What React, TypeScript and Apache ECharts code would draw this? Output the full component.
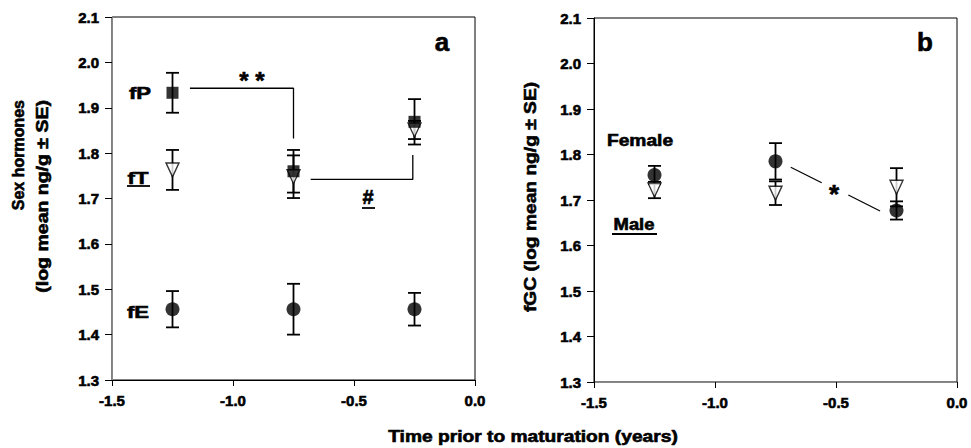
import React, { useEffect, useRef } from 'react';
import * as echarts from 'echarts';

// ---- data ----
const times = [-1.25, -0.75, -0.25];
const xTickLabels = ['-1.5', '-1.0', '-0.5', '0.0'];
const yTickLabels = ['1.3', '1.4', '1.5', '1.6', '1.7', '1.8', '1.9', '2.0', '2.1'];

const fP = [1.933, 1.76, 1.869];
const fPse = [0.044, 0.047, 0.05];
const fT = [1.763, 1.748, 1.851];
const fTse = [0.044, 0.047, 0.02];
const fE = [1.456, 1.456, 1.456];
const fEse = [0.04, 0.056, 0.036];

const female = [1.755, 1.785, 1.677];
const femaleSe = [0.02, 0.04, 0.02];
const male = [1.722, 1.715, 1.728];
const maleSe = [0.018, 0.026, 0.042];

const bracketPP = [[-1.178, 1.943], [-0.75, 1.943], [-0.75, 1.832]];
const bracketPT = [[-0.679, 1.742], [-0.257, 1.742], [-0.257, 1.796]];
const gcDash1 = [[-0.687, 1.772], [-0.559, 1.738]];
const gcDash2 = [[-0.449, 1.711], [-0.318, 1.676]];

const FONT = 'Liberation Sans, Arial, sans-serif';

function errorSeries(gi: number, means: number[], ses: number[]) {
  return {
    type: 'custom',
    xAxisIndex: gi,
    yAxisIndex: gi,
    silent: true,
    z: 2,
    encode: { x: 0, y: [1, 2] },
    data: times.map((t, i) => [t, means[i] - ses[i], means[i] + ses[i]]),
    renderItem: (params: any, api: any) => {
      const x = api.value(0);
      const p1 = api.coord([x, api.value(1)]);
      const p2 = api.coord([x, api.value(2)]);
      const w = 6.5;
      const st = { stroke: '#000', lineWidth: 1.8 };
      return {
        type: 'group',
        children: [
          { type: 'line', shape: { x1: p1[0], y1: p1[1], x2: p2[0], y2: p2[1] }, style: st },
          { type: 'line', shape: { x1: p1[0] - w, y1: p1[1], x2: p1[0] + w, y2: p1[1] }, style: st },
          { type: 'line', shape: { x1: p2[0] - w, y1: p2[1], x2: p2[0] + w, y2: p2[1] }, style: st },
        ],
      };
    },
  };
}

function markerSeries(gi: number, means: number[], kind: string) {
  const base: any = {
    type: 'scatter',
    xAxisIndex: gi,
    yAxisIndex: gi,
    silent: true,
    z: 3,
    data: times.map((t, i) => [t, means[i]]),
  };
  if (kind === 'square') {
    base.symbol = 'rect';
    base.symbolSize = 12;
    base.itemStyle = { color: '#000' };
  } else if (kind === 'circle') {
    base.symbol = 'circle';
    base.symbolSize = 14;
    base.itemStyle = { color: '#000' };
  } else {
    base.symbol = 'triangle';
    base.symbolRotate = 180;
    base.symbolSize = [13, 14];
    base.itemStyle = { color: '#fff', borderColor: '#000', borderWidth: 1.4 };
  }
  return base;
}

function lineSeries(gi: number, pts: number[][], width = 1.3) {
  return {
    type: 'line',
    xAxisIndex: gi,
    yAxisIndex: gi,
    silent: true,
    symbol: 'none',
    z: 1,
    lineStyle: { color: '#000', width },
    data: pts,
  };
}

const tickStyle = {
  color: '#000',
  fontFamily: FONT,
  fontWeight: 'bold',
  fontSize: 15,
  textBorderColor: '#000',
  textBorderWidth: 0.6,
  margin: 13,
};

function xAxis(gi: number, lineColor: string) {
  return {
    type: 'value',
    gridIndex: gi,
    min: -1.5,
    max: 0,
    interval: 0.5,
    axisLine: { show: true, onZero: false, lineStyle: { color: lineColor, width: 1 } },
    axisTick: { show: true, length: 6, lineStyle: { color: '#000' } },
    splitLine: { show: false },
    axisLabel: {
      ...tickStyle,
      formatter: (v: number) => xTickLabels[Math.round((v + 1.5) / 0.5)] ?? v.toFixed(1),
    },
  };
}

function yAxis(gi: number, lineColor: string) {
  return {
    type: 'value',
    gridIndex: gi,
    min: 1.3,
    max: 2.1,
    interval: 0.1,
    axisLine: { show: true, onZero: false, lineStyle: { color: lineColor, width: 1 } },
    axisTick: { show: true, length: 7, lineStyle: { color: '#000' } },
    splitLine: { show: false },
    axisLabel: {
      ...tickStyle,
      showMinLabel: true,
      showMaxLabel: true,
      formatter: (v: number) => yTickLabels[Math.round((v - 1.3) / 0.1)] ?? v.toFixed(1),
    },
  };
}

function txt(text: string, x: number, y: number, size: number, extra: any = {}) {
  const { align, ...rest } = extra;
  return {
    type: 'text',
    x,
    y,
    silent: true,
    z: 10,
    ...rest,
    style: {
      text,
      x: 0,
      y: 0,
      fill: '#000',
      stroke: '#000',
      lineWidth: 0.6,
      font: `bold ${size}px ${FONT}`,
      align: align || 'center',
      verticalAlign: 'middle',
    },
  };
}

function uline(x1: number, x2: number, y: number) {
  return {
    type: 'line',
    silent: true,
    z: 10,
    shape: { x1, y1: y, x2, y2: y },
    style: { stroke: '#000', lineWidth: 1.8 },
  };
}

export default function App() {
  const ref = useRef<HTMLDivElement>(null);
  useEffect(() => {
    document.body.style.margin = '0';
    const chart = echarts.init(ref.current!, null, { renderer: 'svg' });
    const option: any = {
      animation: false,
      backgroundColor: '#fff',
      grid: [
        { left: 112, top: 17, width: 363, height: 363, show: true, borderColor: '#000', borderWidth: 1, backgroundColor: 'transparent' },
        { left: 594, top: 18, width: 363, height: 364, show: true, borderColor: '#000', borderWidth: 1, backgroundColor: 'transparent' },
      ],
      xAxis: [xAxis(0, '#000'), xAxis(1, '#888')],
      yAxis: [yAxis(0, '#888'), yAxis(1, '#000')],
      series: [
        lineSeries(0, bracketPP),
        lineSeries(0, bracketPT),
        errorSeries(0, fT, fTse),
        errorSeries(0, fP, fPse),
        errorSeries(0, fE, fEse),
        markerSeries(0, fT, 'triangle'),
        markerSeries(0, fP, 'square'),
        markerSeries(0, fE, 'circle'),
        lineSeries(1, gcDash1, 1.2),
        lineSeries(1, gcDash2, 1.2),
        errorSeries(1, male, maleSe),
        errorSeries(1, female, femaleSe),
        markerSeries(1, male, 'triangle'),
        markerSeries(1, female, 'circle'),
      ],
      graphic: [
        txt('Sex hormones', 18, 100, 16, { rotation: Math.PI / 2, align: 'right' }),
        txt('(log mean ng/g \u00b1 SE)', 43, 100, 16, { rotation: Math.PI / 2, align: 'right', scaleX: 1.22 }),
        txt('fGC (log mean ng/g \u00b1 SE)', 530, 197, 17, { rotation: Math.PI / 2, scaleX: 1.13 }),
        txt('Time prior to maturation (years)', 533, 437, 16, { scaleX: 1.2 }),
        txt('a', 442, 42, 26),
        txt('b', 925, 42, 26),
        txt('fP', 140, 93, 17, { scaleX: 1.3 }),
        txt('fT', 138, 178, 17, { scaleX: 1.3 }),
        uline(127, 150, 186),
        txt('fE', 138, 312, 17, { scaleX: 1.3 }),
        txt('* *', 252, 80, 24),
        txt('#', 368, 197, 20),
        uline(362, 375, 208),
        txt('*', 834, 194, 26),
        txt('Female', 640, 141, 16, { scaleX: 1.2 }),
        txt('Male', 634, 224, 16, { scaleX: 1.15 }),
        uline(612, 657, 234),
      ],
    };
    chart.setOption(option);
    return () => chart.dispose();
  }, []);
  return <div ref={ref} style={{ width: 971, height: 448 }} />;
}
